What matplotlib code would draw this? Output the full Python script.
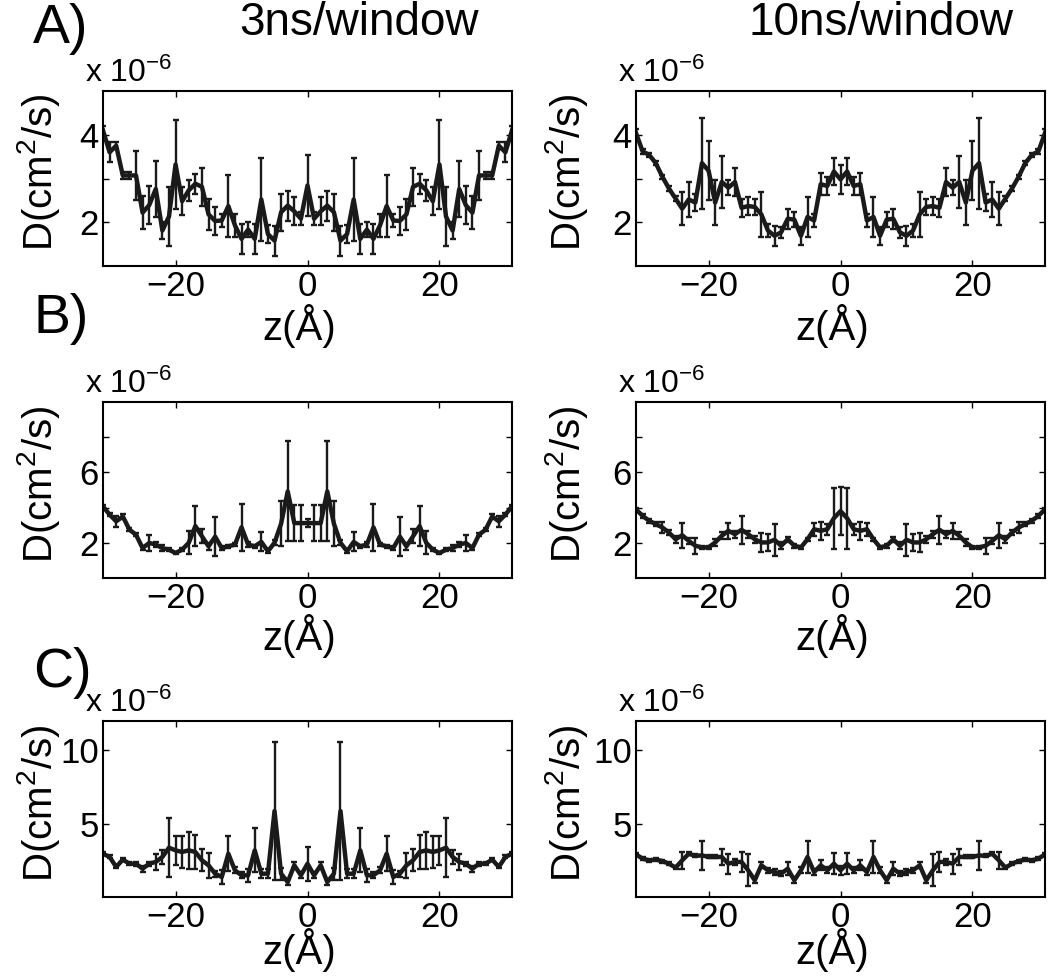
import matplotlib
matplotlib.use("Agg")
import matplotlib.pyplot as plt

plt.rcParams['font.family'] = ['Liberation Sans', 'DejaVu Sans']
plt.rcParams['mathtext.fontset'] = 'custom'
plt.rcParams['mathtext.rm'] = 'Liberation Sans'
plt.rcParams['mathtext.it'] = 'Liberation Sans'

# z positions (Angstrom)
Z = [-31, -30, -29, -28, -27, -26, -25, -24, -23, -22, -21,
     -20, -19, -18, -17, -16, -15, -14, -13, -12, -11, -10,
     -9, -8, -7, -6, -5, -4, -3, -2, -1, 0, 1,
     2, 3, 4, 5, 6, 7, 8, 9, 10, 11, 12,
     13, 14, 15, 16, 17, 18, 19, 20, 21, 22, 23,
     24, 25, 26, 27, 28, 29, 30, 31]

# diffusion coefficients in units of 1e-6 cm^2/s, and their error bars
# A) 3ns/window
A3_D = [4.10, 3.60, 3.75, 3.07, 3.07, 3.07, 2.22, 2.39, 2.76, 1.81, 2.13,
        3.32, 2.48, 2.73, 2.88, 2.81, 2.18, 2.03, 2.04, 2.37, 1.93, 1.62,
        1.83, 1.62, 2.52, 1.73, 1.58, 2.23, 2.38, 2.25, 2.08, 2.84, 2.08,
        2.25, 2.38, 2.23, 1.58, 1.73, 2.52, 1.62, 1.83, 1.62, 1.93, 2.37,
        2.04, 2.03, 2.18, 2.81, 2.88, 2.73, 2.48, 3.32, 2.13, 1.81, 2.76,
        2.39, 2.22, 3.07, 3.07, 3.07, 3.75, 3.60, 4.10]
A3_E = [0.10, 0.23, 0.08, 0.07, 0.07, 0.56, 0.37, 0.43, 0.64, 0.19, 0.67,
        1.01, 0.32, 0.24, 0.23, 0.43, 0.36, 0.33, 0.15, 0.70, 0.27, 0.34,
        0.17, 0.34, 0.94, 0.20, 0.34, 0.42, 0.34, 0.32, 0.15, 0.69, 0.15,
        0.32, 0.34, 0.42, 0.34, 0.20, 0.94, 0.34, 0.17, 0.34, 0.27, 0.70,
        0.15, 0.33, 0.36, 0.43, 0.23, 0.24, 0.32, 1.01, 0.67, 0.19, 0.64,
        0.43, 0.37, 0.56, 0.07, 0.07, 0.08, 0.23, 0.10]
# A) 10ns/window
A10_D = [4.04, 3.62, 3.54, 3.35, 3.04, 2.77, 2.54, 2.31, 2.52, 2.45, 3.35,
         3.18, 2.45, 2.92, 2.79, 2.92, 2.33, 2.37, 2.35, 2.18, 1.81, 1.69,
         1.77, 2.08, 2.06, 1.69, 2.12, 2.04, 2.87, 2.83, 3.16, 2.98, 3.16,
         2.83, 2.87, 2.04, 2.12, 1.69, 2.06, 2.08, 1.77, 1.69, 1.81, 2.18,
         2.35, 2.37, 2.33, 2.92, 2.79, 2.92, 2.45, 3.18, 3.35, 2.45, 2.52,
         2.31, 2.54, 2.77, 3.04, 3.35, 3.54, 3.62, 4.04]
A10_E = [0.10, 0.05, 0.05, 0.05, 0.05, 0.05, 0.05, 0.38, 0.40, 0.20, 1.04,
         0.67, 0.52, 0.60, 0.17, 0.31, 0.21, 0.21, 0.19, 0.52, 0.15, 0.23,
         0.12, 0.23, 0.17, 0.20, 0.46, 0.15, 0.25, 0.21, 0.31, 0.33, 0.31,
         0.21, 0.25, 0.15, 0.46, 0.20, 0.17, 0.23, 0.12, 0.23, 0.15, 0.52,
         0.19, 0.21, 0.21, 0.31, 0.17, 0.60, 0.52, 0.67, 1.04, 0.20, 0.40,
         0.38, 0.05, 0.05, 0.05, 0.05, 0.05, 0.05, 0.10]
# B) 3ns/window
B3_D = [4.07, 3.60, 3.22, 3.50, 2.75, 2.46, 1.70, 1.99, 1.90, 1.70, 1.61,
        1.42, 1.61, 2.00, 2.95, 2.37, 1.80, 2.35, 1.70, 1.80, 1.90, 2.88,
        1.90, 1.80, 2.05, 1.52, 2.00, 3.09, 4.92, 3.12, 3.12, 3.12, 3.12,
        3.12, 4.92, 3.09, 2.00, 1.52, 2.05, 1.80, 1.90, 2.88, 1.90, 1.80,
        1.70, 2.35, 1.80, 2.37, 2.95, 2.00, 1.61, 1.42, 1.61, 1.70, 1.90,
        1.99, 1.70, 2.46, 2.75, 3.50, 3.22, 3.60, 4.07]
B3_E = [0.10, 0.10, 0.30, 0.15, 0.10, 0.10, 0.10, 0.47, 0.15, 0.15, 0.10,
        0.05, 0.10, 0.66, 1.15, 0.40, 0.20, 1.10, 0.10, 0.10, 0.10, 1.35,
        0.15, 0.10, 0.54, 0.10, 0.15, 1.28, 2.84, 1.00, 1.04, 0.25, 1.04,
        1.00, 2.84, 1.28, 0.15, 0.10, 0.54, 0.10, 0.15, 1.35, 0.10, 0.10,
        0.10, 1.10, 0.20, 0.40, 1.15, 0.66, 0.10, 0.05, 0.10, 0.15, 0.15,
        0.47, 0.10, 0.10, 0.10, 0.15, 0.30, 0.10, 0.10]
# B) 10ns/window
B10_D = [3.90, 3.53, 3.25, 3.06, 2.87, 2.58, 2.20, 2.43, 2.11, 1.83, 1.74,
         1.74, 2.02, 2.40, 2.68, 2.49, 2.74, 2.49, 2.20, 2.02, 2.02, 2.17,
         1.83, 2.20, 1.83, 1.74, 2.20, 2.77, 2.68, 2.77, 3.40, 3.80, 3.40,
         2.77, 2.68, 2.77, 2.20, 1.74, 1.83, 2.20, 1.83, 2.17, 2.02, 2.02,
         2.20, 2.49, 2.74, 2.49, 2.68, 2.40, 2.02, 1.74, 1.74, 1.83, 2.11,
         2.43, 2.20, 2.58, 2.87, 3.06, 3.25, 3.53, 3.90]
B10_E = [0.10, 0.10, 0.10, 0.10, 0.30, 0.15, 0.20, 0.70, 0.15, 0.45, 0.10,
         0.10, 0.20, 0.20, 0.47, 0.20, 0.80, 0.20, 0.20, 0.52, 0.50, 0.90,
         0.20, 0.15, 0.10, 0.10, 0.10, 0.38, 0.52, 0.30, 1.73, 1.35, 1.73,
         0.30, 0.52, 0.38, 0.10, 0.10, 0.10, 0.15, 0.20, 0.90, 0.50, 0.52,
         0.20, 0.20, 0.80, 0.20, 0.47, 0.20, 0.20, 0.10, 0.10, 0.45, 0.15,
         0.70, 0.20, 0.15, 0.30, 0.10, 0.10, 0.10, 0.10]
# C) 3ns/window
C3_D = [2.95, 2.73, 2.05, 2.55, 2.27, 2.27, 1.93, 2.27, 2.39, 2.73, 3.36,
        3.18, 3.07, 3.18, 3.07, 2.50, 2.16, 1.59, 1.36, 2.95, 1.82, 1.48,
        1.48, 3.18, 1.59, 1.59, 5.86, 1.59, 1.02, 2.16, 1.48, 2.27, 1.48,
        2.16, 1.02, 1.59, 5.86, 1.59, 1.59, 3.18, 1.48, 1.48, 1.82, 2.95,
        1.36, 1.59, 2.16, 2.50, 3.07, 3.18, 3.07, 3.18, 3.36, 2.73, 2.39,
        2.27, 1.93, 2.27, 2.27, 2.55, 2.05, 2.73, 2.95]
C3_E = [0.10, 0.10, 0.10, 0.10, 0.10, 0.15, 0.20, 0.15, 0.53, 0.45, 2.00,
        1.00, 1.10, 1.25, 1.15, 0.75, 0.85, 0.20, 0.50, 1.20, 0.20, 0.20,
        0.45, 1.50, 0.30, 0.30, 4.70, 0.40, 0.20, 0.20, 0.20, 1.15, 0.20,
        0.20, 0.20, 0.40, 4.70, 0.30, 0.30, 1.50, 0.45, 0.20, 0.20, 1.20,
        0.50, 0.20, 0.85, 0.75, 1.15, 1.25, 1.10, 1.00, 2.00, 0.45, 0.53,
        0.15, 0.20, 0.15, 0.10, 0.10, 0.10, 0.10, 0.10]
# C) 10ns/window
C10_D = [2.91, 2.61, 2.50, 2.55, 2.45, 2.27, 2.00, 2.50, 2.95, 2.80, 2.84,
         2.73, 2.73, 2.73, 2.27, 2.39, 2.39, 1.82, 1.14, 2.16, 1.82, 1.70,
         1.59, 1.93, 1.14, 1.82, 2.73, 1.70, 2.16, 1.82, 2.27, 1.82, 2.27,
         1.82, 2.16, 1.70, 2.73, 1.82, 1.14, 1.93, 1.59, 1.70, 1.82, 2.16,
         1.14, 1.82, 2.39, 2.39, 2.27, 2.73, 2.73, 2.73, 2.84, 2.80, 2.95,
         2.50, 2.00, 2.27, 2.45, 2.55, 2.50, 2.61, 2.91]
C10_E = [0.10, 0.10, 0.10, 0.10, 0.10, 0.10, 0.10, 0.57, 0.10, 0.10, 1.00,
         0.10, 0.10, 0.55, 0.68, 0.20, 0.70, 1.10, 0.20, 0.20, 0.15, 0.20,
         0.15, 0.45, 0.20, 0.20, 1.10, 0.20, 0.35, 0.20, 0.70, 0.30, 0.70,
         0.20, 0.35, 0.20, 1.10, 0.20, 0.20, 0.45, 0.15, 0.20, 0.15, 0.20,
         0.20, 1.10, 0.70, 0.20, 0.68, 0.55, 0.10, 0.10, 1.00, 0.10, 0.10,
         0.57, 0.10, 0.10, 0.10, 0.10, 0.10, 0.10, 0.10]

COL_TITLES = ['3ns/window', '10ns/window']
ROW_LABELS = ['A)', 'B)', 'C)']
Y_LIMS = [(1, 5), (0, 10), (0, 12)]
Y_TICKS = [[2, 3, 4], [2, 4, 6, 8], [5, 10]]
Y_TICKLABELS = [['2', '', '4'], ['2', '', '6', ''], ['5', '10']]
X_TICKS = [-20, 0, 20]

W, H = 1050, 976


def fx(x):
    return x / W


def fy(y):
    return 1 - y / H


fig = plt.figure(figsize=(10.5, 9.76), dpi=100)

# axes boxes in pixels: (left, right) and (top, bottom)
col_x = [(103, 512), (636, 1045)]
row_y = [(91, 266), (402, 578), (721, 897)]
xlab_off = [74, 72, 67]

panels = [[(A3_D, A3_E), (A10_D, A10_E)],
          [(B3_D, B3_E), (B10_D, B10_E)],
          [(C3_D, C3_E), (C10_D, C10_E)]]

ink = '#1a1a1a'

for r in range(3):
    for c in range(2):
        x0, x1 = col_x[c]
        y0, y1 = row_y[r]
        ax = fig.add_axes([fx(x0), fy(y1), (x1 - x0) / W, (y1 - y0) / H])
        D, E = panels[r][c]
        ax.errorbar(Z, D, yerr=E, color=ink, lw=3.2, elinewidth=1.7,
                    capsize=2.4, capthick=1.7)
        ax.set_xlim(-31, 31)
        ax.set_ylim(*Y_LIMS[r])
        ax.set_xticks(X_TICKS)
        ax.set_yticks(Y_TICKS[r])
        ax.set_yticklabels(Y_TICKLABELS[r])
        ax.tick_params(direction='in', top=True, right=True, length=4,
                       width=1.0, labelsize=25, pad=3, colors='black')
        for s in ax.spines.values():
            s.set_linewidth(1.5)

        # MATLAB-style exponent note above the axes
        fig.text(fx(x0 - 18), fy(y0 - 9), r'x 10$^{-6}$', fontsize=23,
                 ha='left', va='baseline')
        # y label
        fig.text(fx(x0 - 64 if c == 0 else x0 - 69), fy((y0 + y1) / 2 - 6),
                 r'D(cm$^{2}$/s)', fontsize=29, rotation=90,
                 ha='center', va='center')
        # x label
        fig.text(fx((x0 + x1) / 2 - 8), fy(y1 + xlab_off[r]), 'z(Å)',
                 fontsize=29, ha='center', va='baseline')

# column titles and row letters
fig.text(fx(359), fy(35), COL_TITLES[0], fontsize=33, ha='center', va='baseline')
fig.text(fx(881), fy(35), COL_TITLES[1], fontsize=33, ha='center', va='baseline')
for lab, yb in zip(ROW_LABELS, [43, 333, 687]):
    fig.text(fx(33), fy(yb), lab, fontsize=40, ha='left', va='baseline')

fig.savefig('out.png', dpi=100, facecolor='white')
